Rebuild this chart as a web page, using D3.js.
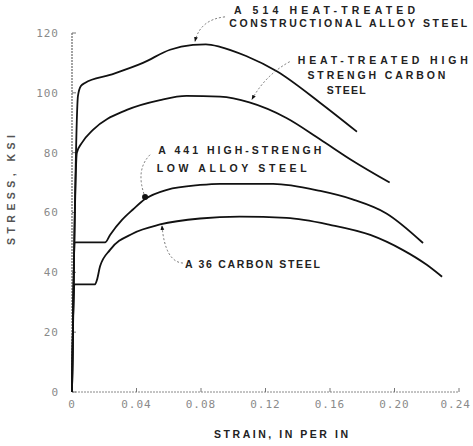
<!DOCTYPE html>
<html>
<head>
<meta charset="utf-8">
<script src="https://cdn.jsdelivr.net/npm/d3@7"></script>
<style>
  body { margin: 0; background: #fff; }
  svg { display: block; }
  .tick-label { font: 11px "DejaVu Sans Mono", monospace; fill: #8a8a8a; letter-spacing: 1px; }
  .note { font: bold 10.5px "Liberation Sans", Arial, sans-serif; fill: #222; }
</style>
</head>
<body>
<svg width="473" height="446"></svg>
<script>
// strain (in/in) vs stress (ksi)
var a514 = [[0, 0], [0.0037, 99], [0.0055, 102.3], [0.008, 103.3], [0.0236, 106], [0.044, 110],
  [0.0608, 114.4], [0.075, 116], [0.083, 116.2], [0.0918, 115.4], [0.108, 112.3], [0.127, 107.2],
  [0.1538, 96.7], [0.1767, 87]];
var carbonHT = [[0, 0], [0.003, 80], [0.006, 83.2], [0.013, 87.6], [0.034, 94.3], [0.0546, 97.6],
  [0.071, 99], [0.0918, 98.7], [0.110, 96.8], [0.133, 91.6], [0.154, 84.4], [0.174, 77.3], [0.197, 70]];
var a441 = [[0, 0], [0.002, 50], [0.0205, 50], [0.0236, 52.5], [0.031, 57.5], [0.0378, 61],
  [0.0453, 64.5], [0.0589, 67.6], [0.0794, 69.2], [0.0918, 69.6], [0.1247, 69.6], [0.154, 67.2],
  [0.174, 64.4], [0.195, 59.7], [0.2177, 49.8]];
var a36 = [[0, 0], [0.0015, 36], [0.0143, 36], [0.0155, 37.5], [0.0174, 42], [0.0236, 47.5],
  [0.0378, 53], [0.0546, 56], [0.0794, 58], [0.104, 58.6], [0.133, 58.2], [0.16, 55.9],
  [0.185, 52.5], [0.205, 47.5], [0.220, 42.5], [0.2295, 38.5]];

var xTicks = [0, 0.04, 0.08, 0.12, 0.16, 0.20, 0.24];
var xTickLabels = ["0", "0.04", "0.08", "0.12", "0.16", "0.20", "0.24"];
var yTicks = [0, 20, 40, 60, 80, 100, 120];

// labels: text lines, anchor point, leader path (start, control, end) in data units
var notes = [
  { lines: ["A 514  HEAT-TREATED", "CONSTRUCTIONAL ALLOY STEEL"], at: [[0.1005, 127.5], [0.0975, 123.2]],
    widths: [181, 238],
    leader: [[0.0949, 125.4], [0.0794, 124.5], [0.0763, 117.2]], end: "arrow" },
  { lines: ["HEAT-TREATED HIGH", "STRENGH CARBON", "STEEL"], at: [[0.140, 111], [0.146, 105.7], [0.158, 100.7]],
    widths: [170, 138, 39],
    leader: [[0.135, 110.4], [0.12, 106], [0.1116, 97.8]], end: "arrow" },
  { lines: ["A 441 HIGH-STRENGH", "LOW ALLOY STEEL"], at: [[0.0535, 80.8], [0.0525, 74.8]],
    widths: [163, 150],
    leader: [[0.0484, 79.3], [0.039, 74.2], [0.0453, 65.2]], end: "dot" },
  { lines: ["A 36 CARBON STEEL"], at: [[0.070, 42.6]],
    widths: [135],
    leader: [[0.0688, 43.1], [0.0577, 43.5], [0.0558, 55.6]], end: "arrow" }
];

var svg = d3.select("svg");
var x = d3.scaleLinear().domain([0, 0.24]).range([72, 459]);
var y = d3.scaleLinear().domain([0, 120]).range([392, 33]);

// axes, drawn as thin dotted scan lines
var g = svg.append("g");
g.append("line")
  .attr("x1", x(0)).attr("x2", x(0)).attr("y1", y(0)).attr("y2", y(120))
  .attr("stroke", "#666").attr("stroke-width", 1.2).attr("stroke-dasharray", "2,1");
g.append("line")
  .attr("x1", x(0)).attr("x2", x(0.24)).attr("y1", y(0)).attr("y2", y(0))
  .attr("stroke", "#888").attr("stroke-width", 1).attr("stroke-dasharray", "2,1");

g.selectAll(".ytick").data(yTicks).enter().append("line")
  .attr("x1", x(0)).attr("x2", x(0) + 4)
  .attr("y1", function (d) { return y(d); }).attr("y2", function (d) { return y(d); })
  .attr("stroke", "#777");
g.selectAll(".ylab").data(yTicks).enter().append("text")
  .attr("class", "tick-label")
  .attr("x", x(0) - 13).attr("y", function (d) { return y(d); })
  .attr("dy", "0.35em").attr("text-anchor", "end")
  .text(function (d) { return d; });

g.selectAll(".xtick").data(xTicks.slice(1)).enter().append("line")
  .attr("x1", function (d) { return x(d); }).attr("x2", function (d) { return x(d); })
  .attr("y1", y(0)).attr("y2", y(0) - 4)
  .attr("stroke", "#777");
g.selectAll(".xlab").data(xTicks).enter().append("text")
  .attr("class", "tick-label")
  .attr("x", function (d, i) { return i == xTicks.length - 1 ? x(d) + 12 : x(d); })
  .attr("y", y(0) + 16)
  .attr("text-anchor", function (d, i) { return i == xTicks.length - 1 ? "end" : "middle"; })
  .text(function (d, i) { return xTickLabels[i]; });

svg.append("text")
  .attr("class", "note")
  .attr("transform", "translate(15,190) rotate(-90)")
  .attr("text-anchor", "middle").style("fill", "#555")
  .attr("textLength", 110).attr("lengthAdjust", "spacing")
  .text("STRESS, KSI");
svg.append("text")
  .attr("class", "note")
  .attr("x", 214).attr("y", 438)
  .attr("textLength", 134).attr("lengthAdjust", "spacing")
  .text("STRAIN, IN PER IN");

var line = d3.line()
  .curve(d3.curveMonotoneX)
  .x(function (d) { return x(d[0]); })
  .y(function (d) { return y(d[1]); });

[a514, carbonHT, a441, a36].forEach(function (s) {
  svg.append("path")
    .attr("d", line(s))
    .attr("fill", "none")
    .attr("stroke", "#111")
    .attr("stroke-width", 1.8);
});

svg.append("defs").append("marker")
  .attr("id", "arr").attr("viewBox", "0 0 10 10").attr("refX", 9).attr("refY", 5)
  .attr("markerWidth", 6).attr("markerHeight", 6).attr("orient", "auto")
  .append("path").attr("d", "M0,1L10,5L0,9Z").attr("fill", "#111");

notes.forEach(function (n) {
  var p = n.leader.map(function (d) { return [x(d[0]), y(d[1])]; });
  svg.append("path")
    .attr("d", "M" + p[0] + "Q" + p[1] + " " + p[2])
    .attr("fill", "none").attr("stroke", "#555").attr("stroke-width", 0.8)
    .attr("stroke-dasharray", "2,2")
    .attr("marker-end", n.end == "arrow" ? "url(#arr)" : null);
  if (n.end == "dot") {
    svg.append("circle").attr("cx", p[2][0]).attr("cy", p[2][1]).attr("r", 3).attr("fill", "#111");
  }
  n.lines.forEach(function (t, i) {
    svg.append("text")
      .attr("class", "note")
      .attr("x", x(n.at[i][0])).attr("y", y(n.at[i][1]))
      .attr("dy", "0.35em")
      .attr("textLength", n.widths[i]).attr("lengthAdjust", "spacing")
      .text(t);
  });
});
</script>
</body>
</html>
